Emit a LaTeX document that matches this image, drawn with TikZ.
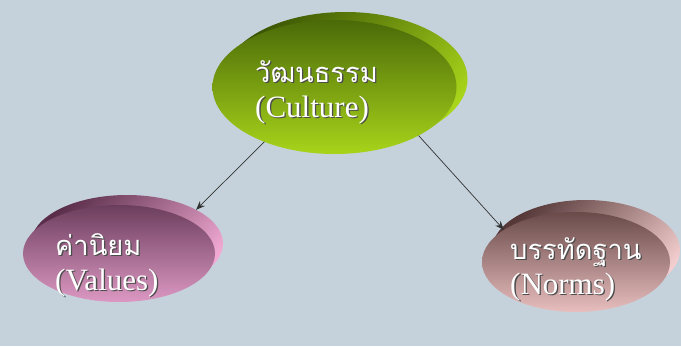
\documentclass[tikz,border=0pt]{standalone}
\usepackage{fontspec}
\setmainfont{Liberation Serif}
\newfontfamily\thaifont[Script=Thai, Scale=0.88]{Loma}
\usepackage{xcolor}
\usetikzlibrary{shapes.geometric, arrows, arrows.meta, positioning}

\definecolor{bgblue}{HTML}{C5D2DC}
\definecolor{olivetop}{HTML}{4A6A08}
\definecolor{olivebot}{HTML}{A8D41A}
\definecolor{olivedeep}{HTML}{3C5604}
\definecolor{mauvetop}{HTML}{6C3E5E}
\definecolor{mauvebot}{HTML}{DC98C2}
\definecolor{mauvedeep}{HTML}{5A2E4A}
\definecolor{mauvelite}{HTML}{F2AAD4}
\definecolor{rosetop}{HTML}{6A4A4A}
\definecolor{rosebot}{HTML}{E8BEBE}
\definecolor{rosedeep}{HTML}{563838}
\definecolor{roselite}{HTML}{F4CECE}

\tikzstyle{bubble} = [ellipse, draw=none, inner sep=0pt, outer sep=0pt]
\tikzstyle{caption} = [text=white, align=left, anchor=west, inner sep=0pt, font=\fontsize{31}{35}\selectfont]
\tikzstyle{arrow} = [line width=0.7pt, draw=black!80, -{Stealth[length=9pt, width=7pt]}]

\newcommand{\shtext}[1]{\makebox[0pt][l]{\raisebox{-1.3pt}{\kern1.3pt\textcolor{black!70}{#1}}}#1}

\begin{document}
\begin{tikzpicture}[x=1pt, y=-1pt]

\useasboundingbox (0,0) rectangle (681,346);
\fill[bgblue] (0,0) rectangle (681,346);

% Culture
\node (cultureback) [bubble, minimum width=244pt, minimum height=134pt, top color=olivedeep, bottom color=olivebot, shading angle=45] at (345.5,79) {};
\node (culture) [bubble, minimum width=244pt, minimum height=134pt, top color=olivetop, bottom color=olivebot] at (334.5,87) {};
\node (culturetext) [caption, xshift=42.5pt, yshift=-6pt] at (culture.west) {{\thaifont\shtext{วัฒนธรรม}}\\\shtext{(Culture)}};

% Values
\node (valuesback) [bubble, minimum width=192pt, minimum height=97pt, top color=mauvedeep, bottom color=mauvelite, shading angle=45] at (127,243.5) {};
\node (values) [bubble, minimum width=192pt, minimum height=97pt, top color=mauvetop, bottom color=mauvebot] at (119,253.5) {};
\node (valuestext) [caption, xshift=32pt, yshift=-12pt] at (values.west) {{\thaifont\shtext{ค่านิยม}}\\\shtext{(Values)}};

% Norms
\node (normsback) [bubble, minimum width=188pt, minimum height=100pt, top color=rosedeep, bottom color=roselite, shading angle=45] at (586,250) {};
\node (norms) [bubble, minimum width=188pt, minimum height=100pt, top color=rosetop, bottom color=rosebot] at (576,262) {};
\node (normstext) [caption, xshift=28pt, yshift=-8pt] at (norms.west) {{\thaifont\shtext{บรรทัดฐาน}}\\\shtext{(Norms)}};

% Arrows
\draw [arrow] (culture.218) -- (valuesback.26);
\draw [arrow] (culture.330) -- (norms.156);

\end{tikzpicture}
\end{document}
